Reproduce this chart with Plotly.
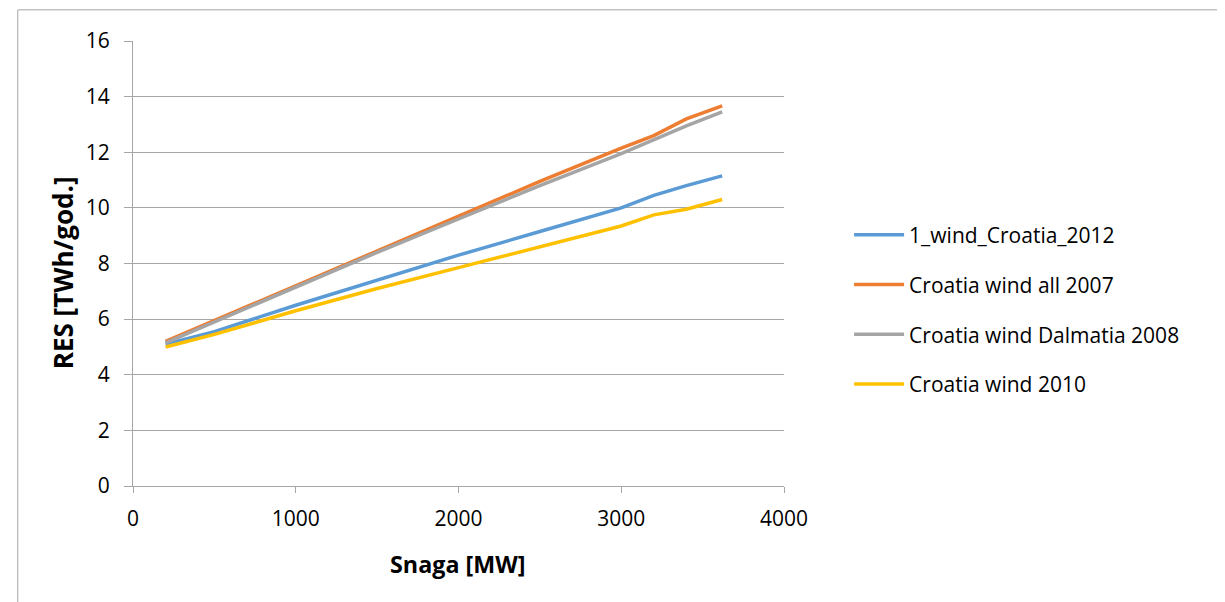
import plotly.graph_objects as go

# capacity [MW]
snaga = [200, 500, 1000, 1500, 2000, 2500, 3000, 3200, 3400, 3620]

wind_2012 = [5.10, 5.55, 6.50, 7.40, 8.30, 9.15, 10.00, 10.45, 10.80, 11.15]
wind_all_2007 = [5.20, 5.95, 7.20, 8.45, 9.70, 10.95, 12.15, 12.60, 13.20, 13.67]
wind_dalmatia_2008 = [5.15, 5.90, 7.15, 8.40, 9.60, 10.80, 11.95, 12.45, 12.95, 13.45]
wind_2010 = [5.00, 5.45, 6.30, 7.10, 7.85, 8.60, 9.35, 9.75, 9.95, 10.30]

names = ['1_wind_Croatia_2012', 'Croatia wind all 2007',
         'Croatia wind Dalmatia 2008', 'Croatia wind 2010']
series = [wind_2012, wind_all_2007, wind_dalmatia_2008, wind_2010]
colors = ['#5B9BD5', '#ED7D31', '#A5A5A5', '#FFC000']

fig = go.Figure()
for i in range(len(names)):
    fig.add_trace(go.Scatter(x=snaga, y=series[i], name=names[i], mode='lines',
                             legendgroup=str(i),
                             line=dict(color=colors[i], width=3.5)))

font = '"Open Sans", sans-serif'

fig.update_layout(
    width=1225, height=602,
    margin=dict(l=125, r=449, t=33, b=124),
    paper_bgcolor='white', plot_bgcolor='white',
    font=dict(family=font, size=20, color='black'),
    showlegend=True,
    legend=dict(x=1.1, y=0.61, xanchor='left', yanchor='top',
                traceorder='grouped', tracegroupgap=19.5,
                font=dict(size=21), itemwidth=50),
    xaxis=dict(range=[0, 4000], tickvals=[0, 1000, 2000, 3000, 4000],
               showgrid=False, showline=True, linecolor='#a6a6a6', linewidth=1,
               ticks='outside', ticklen=6, tickcolor='#a6a6a6',
               ticklabelstandoff=8, tickfont=dict(size=21),
               zeroline=False),
    yaxis=dict(range=[0, 16], tickvals=list(range(0, 17, 2)),
               showgrid=True, gridcolor='#a6a6a6', gridwidth=1,
               showline=True, linecolor='#a6a6a6', linewidth=1,
               ticks='outside', ticklen=8, tickcolor='#a6a6a6',
               ticklabelstandoff=10, tickfont=dict(size=21),
               zeroline=False),
)

# axis titles
fig.add_annotation(text='<b>Snaga [MW]</b>', xref='paper', yref='paper',
                   x=0.499, y=-0.175, xanchor='center', yanchor='middle',
                   showarrow=False, font=dict(size=23.3))
fig.add_annotation(text='<b>RES [TWh/god.]</b>', xref='paper', yref='paper',
                   x=-0.107, y=0.479, xanchor='center', yanchor='middle',
                   textangle=-90, showarrow=False, font=dict(size=26))

# outer chart border
fig.add_shape(type='rect', xref='paper', yref='paper',
              x0=-0.177, x1=1.7, y0=-0.3, y1=1.07,
              line=dict(color='#a6a6a6', width=1), layer='below')

fig.write_html("out.html")
